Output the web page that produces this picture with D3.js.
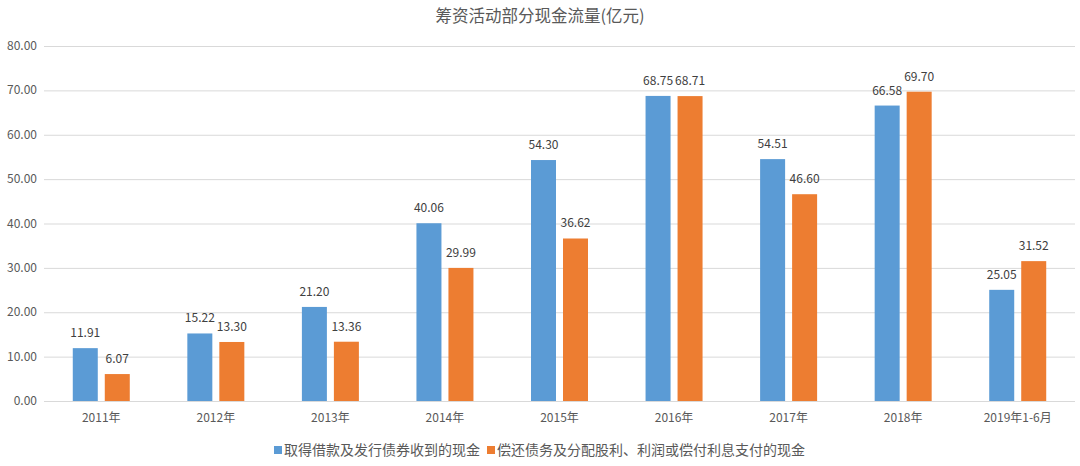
<!DOCTYPE html>
<html>
<head>
<meta charset="utf-8">
<script src="https://cdn.jsdelivr.net/npm/d3@7"></script>
<style>
  body { margin: 0; background: #fff; }
  text { font-family: "Microsoft YaHei", "Noto Sans CJK SC", sans-serif; }
</style>
</head>
<body>
<script>
var categories = ["2011年", "2012年", "2013年", "2014年", "2015年", "2016年", "2017年", "2018年", "2019年1-6月"];
var seriesNames = ["取得借款及发行债券收到的现金", "偿还债务及分配股利、利润或偿付利息支付的现金"];
var borrow = [11.91, 15.22, 21.20, 40.06, 54.30, 68.75, 54.51, 66.58, 25.05];
var repay = [6.07, 13.30, 13.36, 29.99, 36.62, 68.71, 46.60, 69.70, 31.52];
var yTicks = [0, 10, 20, 30, 40, 50, 60, 70, 80];
var colors = ["#5b9bd5", "#ed7d31"];

var width = 1080, height = 466;
var plotLeft = 44, plotRight = 1075, plotTop = 46, plotBottom = 401;

var svg = d3.select("body").append("svg")
  .attr("width", width)
  .attr("height", height);

var x = d3.scaleBand()
  .domain(categories)
  .range([plotLeft, plotRight]);

var y = d3.scaleLinear()
  .domain([0, 80])
  .range([plotBottom, plotTop]);

// grid
svg.append("g")
  .selectAll("line")
  .data(yTicks)
  .enter().append("line")
    .attr("x1", plotLeft)
    .attr("x2", plotRight)
    .attr("y1", function(d) { return y(d) + 0.5; })
    .attr("y2", function(d) { return y(d) + 0.5; })
    .attr("stroke", "#d9d9d9")
    .attr("stroke-width", 1);

// y labels
svg.append("g")
  .selectAll("text")
  .data(yTicks)
  .enter().append("text")
    .attr("x", 37)
    .attr("y", function(d) { return y(d) + 4; })
    .attr("text-anchor", "end")
    .attr("font-size", 12)
    .attr("fill", "#595959")
    .text(function(d) { return d.toFixed(2); });

var barW = 25, gap = 7;
var series = [borrow, repay];

series.forEach(function(vals, si) {
  var offset = si === 0 ? -gap / 2 - barW : gap / 2;
  var g = svg.append("g");
  g.selectAll("rect")
    .data(vals)
    .enter().append("rect")
      .attr("x", function(d, i) { return x(categories[i]) + x.bandwidth() / 2 + offset; })
      .attr("y", function(d) { return y(d); })
      .attr("width", barW)
      .attr("height", function(d) { return plotBottom - y(d); })
      .attr("fill", colors[si]);
  g.selectAll("text")
    .data(vals)
    .enter().append("text")
      .attr("x", function(d, i) { return x(categories[i]) + x.bandwidth() / 2 + offset + barW / 2; })
      .attr("y", function(d) { return y(d) - 11; })
      .attr("text-anchor", "middle")
      .attr("font-size", 12)
      .attr("fill", "#404040")
      .text(function(d) { return d.toFixed(2); });
});

// x labels
svg.append("g")
  .selectAll("text")
  .data(categories)
  .enter().append("text")
    .attr("x", function(d) { return x(d) + x.bandwidth() / 2; })
    .attr("y", 422)
    .attr("text-anchor", "middle")
    .attr("font-size", 12)
    .attr("fill", "#595959")
    .text(function(d) { return d; });

// title
svg.append("text")
  .attr("x", 540)
  .attr("y", 22)
  .attr("text-anchor", "middle")
  .attr("font-size", 16.5)
  .attr("fill", "#595959")
  .text("筹资活动部分现金流量(亿元)");

// legend
var legendX = [274, 487];
seriesNames.forEach(function(name, i) {
  svg.append("rect")
    .attr("x", legendX[i])
    .attr("y", 446)
    .attr("width", 8)
    .attr("height", 8)
    .attr("fill", colors[i]);
  svg.append("text")
    .attr("x", legendX[i] + 10)
    .attr("y", 455)
    .attr("font-size", 14)
    .attr("fill", "#595959")
    .text(name);
});
</script>
</body>
</html>
